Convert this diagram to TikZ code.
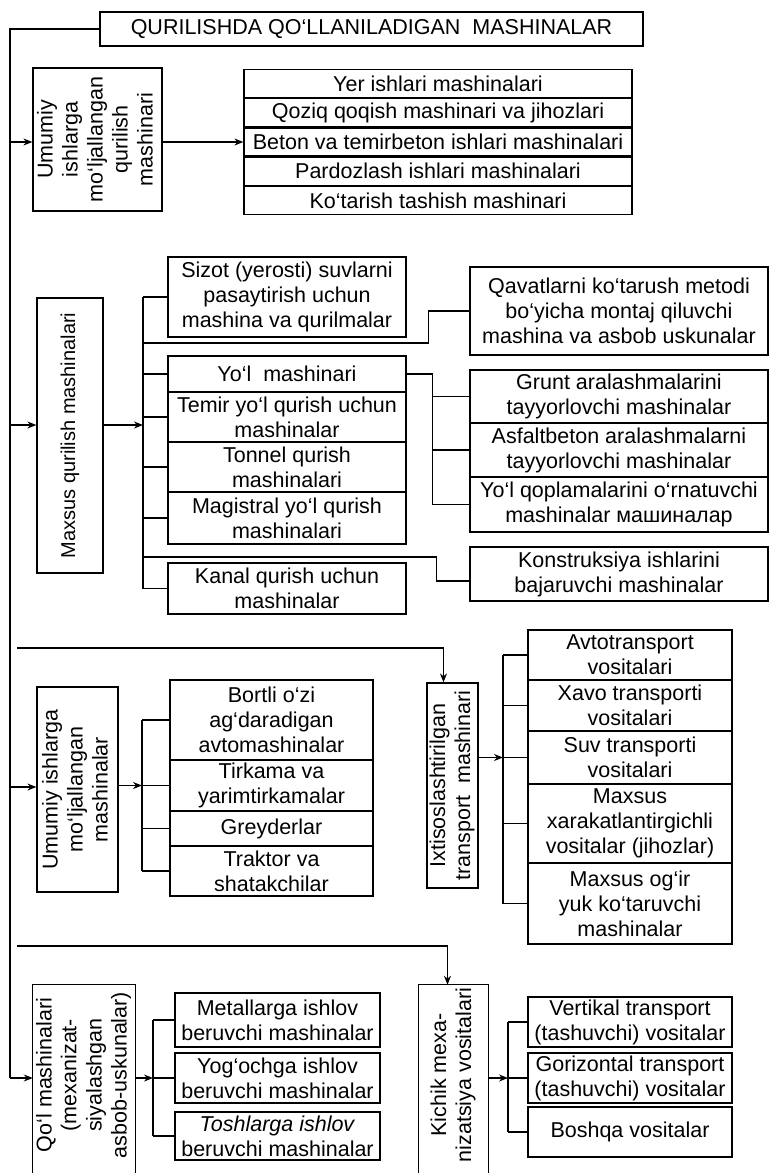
\documentclass[tikz,border=0pt]{standalone}
\usepackage{fontspec}
\setmainfont{Liberation Sans}
\usepackage{graphicx}
\usetikzlibrary{arrows.meta}

\newcommand{\diagfont}{\fontsize{21.5}{25}\selectfont}
\newcommand{\vtext}[1]{\rotatebox{90}{\begin{tabular}{@{}c@{}}#1\end{tabular}}}

\begin{document}
\begin{tikzpicture}[x=1pt, y=-1pt,
    box/.style={draw, line width=1.2pt, inner sep=0pt, align=center, font=\diagfont},
    vbox/.style={inner sep=0pt, font=\diagfont},
    conn/.style={line width=1.2pt},
    arr/.style={line width=1.2pt, -{Stealth[length=9pt, width=7pt]}}]

    \useasboundingbox (0,0) rectangle (770,1173);

    \node [box, minimum width=543pt, minimum height=34pt] (title) at (371.5,29) {QURILISHDA QO‘LLANILADIGAN\ \ MASHINALAR};

    % left spine
    \coordinate (s1) at (10,142);
    \coordinate (s2) at (10,425);
    \coordinate (s3) at (10,787);
    \coordinate (s4) at (10,1078);
    \draw [conn] (title.west) -| (s4);

    % first group
    \node [box, minimum width=129pt, minimum height=143pt] (umqur) at (97.5,139.5) {\vtext{Umumiy\\ishlarga\\mo‘ljallangan\\qurilish\\mashinari}};
    \node [box, minimum width=388pt, minimum height=28pt] (yer1) at (438,83.6) {Yer ishlari mashinalari};
    \node [box, minimum width=388pt, minimum height=28pt] (yer2) at (438,112.8) {Qoziq qoqish mashinari va jihozlari};
    \node [box, minimum width=388pt, minimum height=28pt] (yer3) at (438,142) {Beton va temirbeton ishlari mashinalari};
    \node [box, minimum width=388pt, minimum height=28pt] (yer4) at (438,171.2) {Pardozlash ishlari mashinalari};
    \node [box, minimum width=388pt, minimum height=28pt] (yer5) at (438,200.4) {Ko‘tarish tashish mashinari};

    \draw [arr] (s1) -- (s1 -| umqur.west);
    \draw [arr] (umqur.east |- yer3) -- (yer3.west);

    % maxsus
    \node [box, minimum width=66pt, minimum height=275pt, font=\fontsize{20}{25}\selectfont] (maxsus) at (70,435.5) {\vtext{Maxsus qurilish mashinalari}};
    \node [box, minimum width=238pt, minimum height=80pt] (sizot) at (287,297) {Sizot (yerosti) suvlarni\\pasaytirish uchun\\mashina va qurilmalar};
    \node [box, minimum width=238pt, minimum height=36pt] (yol) at (287,374) {Yo‘l\ \ mashinari};
    \node [box, minimum width=238pt, minimum height=50pt] (temir) at (287,417) {Temir yo‘l qurish uchun\\mashinalar};
    \node [box, minimum width=238pt, minimum height=50pt] (tonnel) at (287,467) {Tonnel qurish\\mashinalari};
    \node [box, minimum width=238pt, minimum height=52pt] (magis) at (287,518) {Magistral yo‘l qurish\\mashinalari};
    \node [box, minimum width=238pt, minimum height=51pt] (kanal) at (287,588.5) {Kanal qurish uchun\\mashinalar};

    \node [box, minimum width=298pt, minimum height=88pt] (qavat) at (619,311) {Qavatlarni ko‘tarush metodi\\bo‘yicha montaj qiluvchi\\mashina va asbob uskunalar};
    \node [box, minimum width=298pt, minimum height=53pt] (grunt) at (619,396.5) {Grunt aralashmalarini\\tayyorlovchi mashinalar};
    \node [box, minimum width=298pt, minimum height=54pt] (asfalt) at (619,450) {Asfaltbeton aralashmalarni\\tayyorlovchi mashinalar};
    \node [box, minimum width=298pt, minimum height=55pt] (qopl) at (619,504.5) {Yo‘l qoplamalarini o‘rnatuvchi\\mashinalar машиналар};
    \node [box, minimum width=298pt, minimum height=54pt] (konst) at (619,574) {Konstruksiya ishlarini\\bajaruvchi mashinalar};

    \coordinate (bmx) at (143,0);
    \coordinate (bq) at (143,343);
    \coordinate (bk) at (143,557);
    \draw [arr] (s2) -- (s2 -| maxsus.west);
    \draw [arr] (maxsus.east |- s2) -- (bmx |- s2);
    \draw [conn] (bmx |- sizot) -- (bmx |- kanal);
    \draw [conn] (bmx |- sizot) -- (sizot.west) (bmx |- yol) -- (yol.west) (bmx |- temir) -- (temir.west)
        (bmx |- tonnel) -- (tonnel.west) (bmx |- magis) -- (magis.west) (bmx |- kanal) -- (kanal.west);
    \draw [conn] (bq) -| ([xshift=-41pt]qavat.west) -- (qavat.west);
    \draw [conn] (bk) -| ([xshift=-33pt, yshift=-7pt]konst.west) -- ([yshift=-7pt]konst.west);
    \draw [conn] (yol.east) -| ([xshift=-37pt]qopl.west) -- (qopl.west);
    \draw [conn] ([xshift=-37pt]grunt.west) -- (grunt.west) ([xshift=-37pt]asfalt.west) -- (asfalt.west);

    % transport
    \coordinate (h1) at (17,648);
    \node [box, minimum width=81pt, minimum height=205pt] (ummash) at (77.5,789.5) {\vtext{Umumiy ishlarga\\mo‘ljallangan\\mashinalar}};
    \node [box, minimum width=203pt, minimum height=80pt] (bortli) at (271.5,720) {Bortli o‘zi\\ag‘daradigan\\avtomashinalar};
    \node [box, minimum width=203pt, minimum height=51pt] (tirkama) at (271.5,785.5) {Tirkama va\\yarimtirkamalar};
    \node [box, minimum width=203pt, minimum height=35pt] (greyder) at (271.5,828.5) {Greyderlar};
    \node [box, minimum width=203pt, minimum height=50pt] (traktor) at (271.5,871) {Traktor va\\shatakchilar};

    \node [box, minimum width=51pt, minimum height=205pt] (ixt) at (452.5,785.5) {\vtext{Ixtisoslashtirilgan\\transport\ \ mashinari}};
    \node [box, minimum width=204pt, minimum height=50pt] (avto) at (630,655) {Avtotransport\\vositalari};
    \node [box, minimum width=204pt, minimum height=51pt] (xavo) at (630,705.5) {Xavo transporti\\vositalari};
    \node [box, minimum width=204pt, minimum height=53pt] (suv) at (630,757.5) {Suv transporti\\vositalari};
    \node [box, minimum width=204pt, minimum height=79pt] (mxar) at (630,823.5) {Maxsus\\xarakatlantirgichli\\vositalar (jihozlar)};
    \node [box, minimum width=204pt, minimum height=81pt] (mogir) at (630,903.5) {Maxsus og‘ir\\yuk ko‘taruvchi\\mashinalar};

    \coordinate (bum) at (142,0);
    \coordinate (bix) at (503,0);
    \draw [arr] (h1) -| ([xshift=-9pt]ixt.north);
    \draw [arr] (s3) -- (s3 -| ummash.west);
    \draw [arr] (ummash.east |- tirkama) -- (bum |- tirkama);
    \draw [conn] (bum |- bortli) -- (bum |- traktor);
    \draw [conn] (bum |- bortli) -- (bortli.west) (bum |- tirkama) -- (tirkama.west)
        (bum |- greyder) -- (greyder.west) (bum |- traktor) -- (traktor.west);
    \draw [arr] (ixt.east |- suv) -- (bix |- suv);
    \draw [conn] (bix |- avto) -- (bix |- mogir);
    \draw [conn] (bix |- avto) -- (avto.west) (bix |- xavo) -- (xavo.west) (bix |- suv) -- (suv.west)
        (bix |- mxar) -- (mxar.west) (bix |- mogir) -- (mogir.west);

    % small machines
    \coordinate (h2) at (17,946);
    \node [vbox, minimum width=102pt, minimum height=180pt] (qol) at (84,1075) {\vtext{Qo‘l mashinalari\\(mexanizat-\\siyalashgan\\asbob-uskunalar)}};
    \draw [conn] ([yshift=-20pt]qol.south west) |- (qol.north east) -- ([yshift=-20pt]qol.south east);
    \node [box, minimum width=205pt, minimum height=54pt] (metall) at (277.5,1020) {Metallarga ishlov\\beruvchi mashinalar};
    \node [box, minimum width=205pt, minimum height=50pt] (yogoch) at (277.5,1078) {Yog‘ochga ishlov\\beruvchi mashinalar};
    \node [box, minimum width=205pt, minimum height=48pt] (tosh) at (277.5,1136) {\textit{Toshlarga ishlov}\\beruvchi mashinalar};

    \node [vbox, minimum width=69pt, minimum height=180pt] (kich) at (453.5,1075) {\vtext{Kichik mexa-\\nizatsiya vositalari}};
    \draw [conn] ([yshift=-20pt]kich.south west) |- (kich.north east) -- ([yshift=-20pt]kich.south east);
    \node [box, minimum width=204pt, minimum height=50pt] (vert) at (630,1022) {Vertikal transport\\(tashuvchi) vositalar};
    \node [box, minimum width=204pt, minimum height=50pt] (gor) at (630,1078) {Gorizontal transport\\(tashuvchi) vositalar};
    \node [box, minimum width=204pt, minimum height=50pt] (bosh) at (630,1132) {Boshqa vositalar};

    \coordinate (bqol) at (153,0);
    \coordinate (bki) at (508,0);
    \draw [arr] (s4) -- (s4 -| qol.west);
    \draw [arr] (h2) -| ([xshift=-6pt]kich.north);
    \draw [arr] (qol.east |- yogoch) -- (bqol |- yogoch);
    \draw [conn] (bqol |- metall) -- (bqol |- tosh);
    \draw [conn] (bqol |- metall) -- (metall.west) (bqol |- yogoch) -- (yogoch.west) (bqol |- tosh) -- (tosh.west);
    \draw [arr] (kich.east |- gor) -- (bki |- gor);
    \draw [conn] (bki |- vert) -- (bki |- bosh);
    \draw [conn] (bki |- vert) -- (vert.west) (bki |- gor) -- (gor.west) (bki |- bosh) -- (bosh.west);

\end{tikzpicture}
\end{document}
